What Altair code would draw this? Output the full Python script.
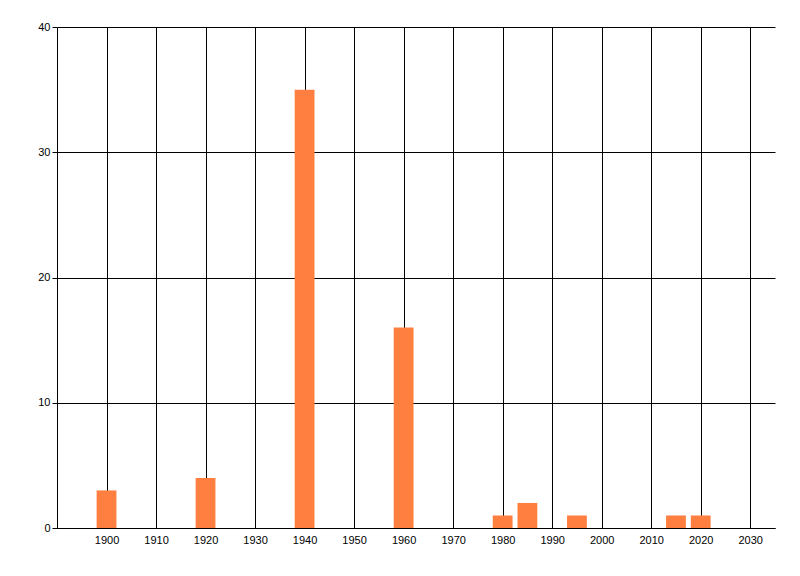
import altair as alt
import pandas as pd

years = [1900, 1920, 1940, 1960, 1980, 1985, 1995, 2015, 2020]
counts = [3, 4, 35, 16, 1, 2, 1, 1, 1]
x_ticks = list(range(1900, 2031, 10))
y_ticks = [0, 10, 20, 30, 40]

df = pd.DataFrame({"year": years, "count": counts})
df["x0"] = df["year"] - 2
df["x1"] = df["year"] + 2

font = "Liberation Sans"

chart = alt.Chart(df).mark_rect(color="#FF7F41").encode(
    x=alt.X("x0:Q",
            scale=alt.Scale(domain=[1890, 2035], nice=False, zero=False),
            axis=alt.Axis(values=x_ticks, format="d", title=None, grid=True,
                          gridColor="black", gridOpacity=1, gridWidth=1,
                          ticks=False, domainColor="black", domainWidth=1,
                          labelColor="black", labelFont=font, labelFontSize=11,
                          labelPadding=6)),
    x2="x1:Q",
    y=alt.Y("count:Q",
            scale=alt.Scale(domain=[0, 40], nice=False),
            axis=alt.Axis(values=y_ticks, title=None, grid=True,
                          gridColor="black", gridOpacity=1, gridWidth=1,
                          ticks=True, tickSize=5, tickColor="black",
                          domainColor="black", domainWidth=1,
                          labelColor="black", labelFont=font, labelFontSize=11,
                          labelPadding=2)),
    y2=alt.datum(0),
).properties(
    width=718, height=501,
    autosize=alt.AutoSizeParams(type="none"),
    padding={"left": 49, "top": 19, "right": 10, "bottom": 40},
).configure_view(stroke=None)

chart.save("out.html", embed_options={"renderer": "svg", "actions": False})
